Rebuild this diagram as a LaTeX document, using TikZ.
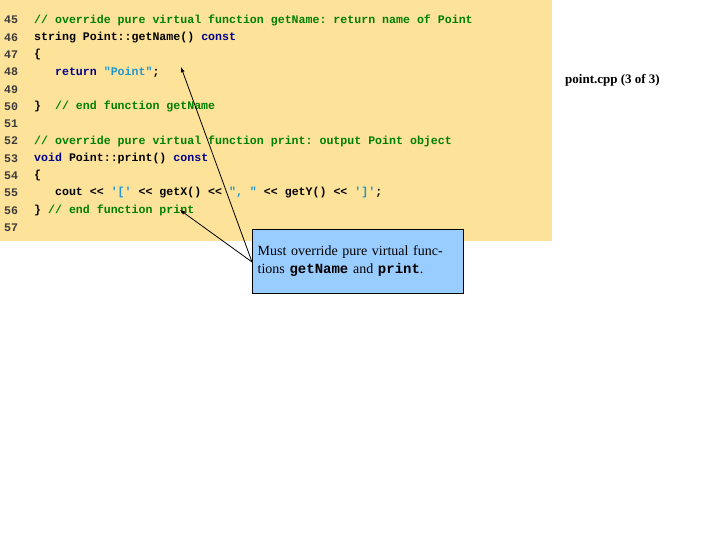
\documentclass[tikz,border=0pt]{standalone}
\usepackage{fontspec}
\setmainfont{Liberation Serif}
\setmonofont{Liberation Mono}
\definecolor{bgy}{RGB}{253,226,153}
\definecolor{cmt}{RGB}{0,128,0}
\definecolor{kw}{RGB}{0,0,140}
\definecolor{str}{RGB}{30,150,210}
\definecolor{lnum}{RGB}{60,60,60}
\definecolor{boxb}{RGB}{153,204,255}
\newcommand{\cm}[1]{\textcolor{cmt}{#1}}
\newcommand{\kw}[1]{\textcolor{kw}{#1}}
\newcommand{\st}[1]{\textcolor{str}{#1}}
\begin{document}
\begin{tikzpicture}[x=1pt,y=-1pt,
  codeline/.style={anchor=west,inner sep=0pt,font=\ttfamily\bfseries\fontsize{11.6}{12}\selectfont},
  lno/.style={anchor=west,inner sep=0pt,font=\ttfamily\bfseries\fontsize{11.6}{12}\selectfont,text=lnum},
  callout/.style={draw=black,fill=boxb,anchor=north west,inner sep=5pt,text width=200pt,align=left,font=\fontsize{14}{18}\selectfont,minimum width=211pt,minimum height=64pt},
  arr/.style={-latex,thick}]
\useasboundingbox (0,0) rectangle (720,540);
\fill[bgy] (0,0) rectangle (552,241);
\foreach \n [count=\i from 0] in {45,...,57}{
  \node[lno] (n\n) at (4,{20+17.3*\i}) {\n};
}
\node[codeline] (c45) at (34,20) {\cm{// override pure virtual function getName: return name of Point}};
\node[codeline] (c46) at (34,37.3) {string Point::getName() \kw{const}};
\node[codeline] (c47) at (34,54.6) {\{};
\node[codeline] (c48) at (34,71.9) {\phantom{xxx}\kw{return} \st{"Point"};};
\node[codeline] (c50) at (34,106.5) {\}\phantom{xx}\cm{// end function getName}};
\node[codeline] (c52) at (34,141.1) {\cm{// override pure virtual function print: output Point object}};
\node[codeline] (c53) at (34,158.4) {\kw{void} Point::print() \kw{const}};
\node[codeline] (c54) at (34,175.7) {\{};
\node[codeline] (c55) at (34,193) {\phantom{xxx}cout << \st{'['} << getX() << \st{", "} << getY() << \st{']'};};
\node[codeline] (c57) at (34,210.3) {\} \cm{// end function print}};
\node[callout] (box) at (252,229) {Must override pure virtual functions {\ttfamily\bfseries getName} and {\ttfamily\bfseries print}.};
\coordinate (t1) at (181,67);
\coordinate (t2) at (180,210);
\coordinate (s) at (252,262);
\draw[arr] (s) -- (t1);
\draw[arr] (s) -- (t2);
\node[font=\bfseries\fontsize{13}{15}\selectfont,anchor=west,inner sep=0pt] (title) at (565,80) {point.cpp (3 of 3)};
\end{tikzpicture}
\end{document}
